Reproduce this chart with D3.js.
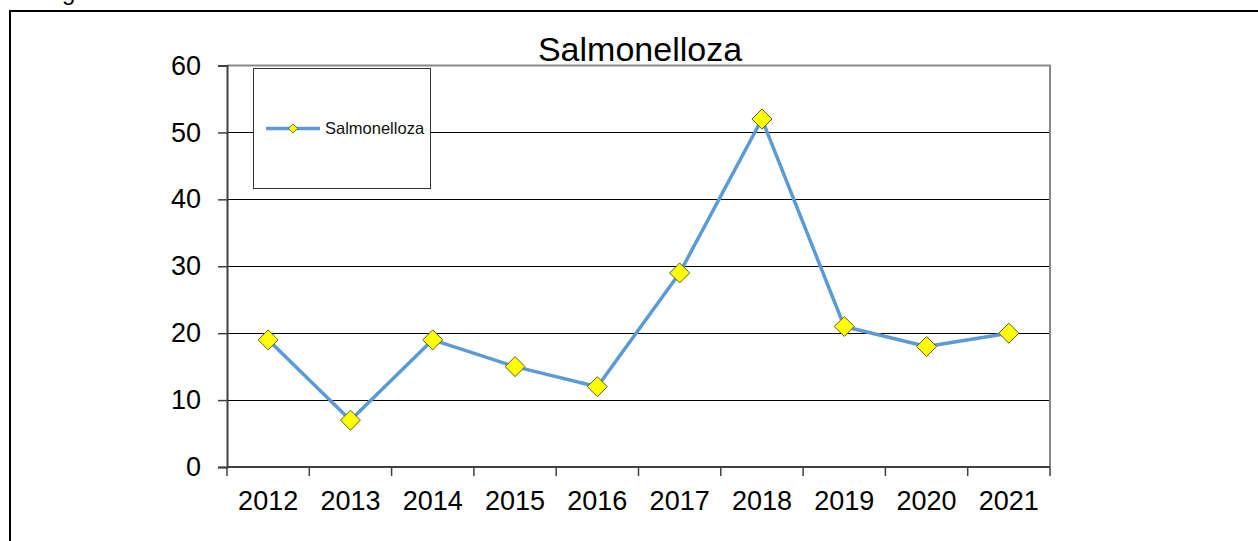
<!DOCTYPE html>
<html><head><meta charset="utf-8">
<script src="https://cdn.jsdelivr.net/npm/d3@7"></script>
<style>body{margin:0;background:#fff}svg{display:block;font-family:"Liberation Sans",Arial,sans-serif}</style>
</head><body>
<svg id="c" width="1258" height="541"></svg>
<script>
const years = ["2012","2013","2014","2015","2016","2017","2018","2019","2020","2021"];
const values = [19, 7, 19, 15, 12, 29, 52, 21, 18, 20];
const yTicks = [0, 10, 20, 30, 40, 50, 60];
const seriesName = "Salmonelloza";
const title = "Salmonelloza";

const svg = d3.select("#c");
// cut-off caption text above frame
svg.append("text").attr("x", 62).attr("y", 0).attr("font-size", 24).attr("fill", "#000").text("g");
// outer frame
svg.append("line").attr("x1", 10).attr("x2", 1258).attr("y1", 11).attr("y2", 11).attr("stroke", "#000").attr("stroke-width", 2);
svg.append("line").attr("x1", 10).attr("x2", 10).attr("y1", 10).attr("y2", 541).attr("stroke", "#000").attr("stroke-width", 2);

const L = 227, R = 1050, T = 65.5, B = 467;
const x = d3.scaleBand().domain(years).range([L, R]);
const y = d3.scaleLinear().domain([0, 60]).range([B, T]);

// gridlines
svg.append("g").selectAll("line").data(yTicks.filter(d => d > 0 && d < 60)).join("line")
  .attr("x1", L).attr("x2", R).attr("y1", d => Math.round(y(d)) + 0.5).attr("y2", d => Math.round(y(d)) + 0.5)
  .attr("stroke", "#000").attr("stroke-width", 1);

// plot border top & right
svg.append("path").attr("d", `M${L},${T} H${R} V${B}`).attr("fill", "none").attr("stroke", "#888").attr("stroke-width", 2);

// y axis
const ya = svg.append("g").attr("transform", `translate(${L},0)`)
  .call(d3.axisLeft(y).tickValues(yTicks).tickSize(9).tickPadding(17).tickFormat(d3.format("d")));
ya.select(".domain").attr("stroke", "#404040").attr("stroke-width", 2);
ya.selectAll(".tick line").attr("stroke", "#404040").attr("stroke-width", 1.5);
ya.selectAll("text").attr("font-size", 27).attr("fill", "#000").attr("font-family", "Liberation Sans, Arial, sans-serif");

// x axis with ticks at boundaries
const xa = svg.append("g").attr("transform", `translate(0,${B})`);
xa.append("line").attr("x1", L).attr("x2", R).attr("y1", 0).attr("y2", 0).attr("stroke", "#404040").attr("stroke-width", 2);
const bounds = years.map(d => x(d)).concat([R]);
xa.selectAll("line.tk").data(bounds).join("line").attr("class", "tk")
  .attr("x1", d => d).attr("x2", d => d).attr("y1", 0).attr("y2", 9).attr("stroke", "#404040").attr("stroke-width", 1.5);
xa.selectAll("text").data(years).join("text")
  .attr("x", d => x(d) + x.bandwidth() / 2).attr("y", 43).attr("text-anchor", "middle")
  .attr("font-size", 27).attr("fill", "#000").text(d => d);

// title
svg.append("text").attr("x", 640).attr("y", 61).attr("text-anchor", "middle").attr("font-size", 34).attr("fill", "#000").text(title);

// line
const cx = (d, i) => x(years[i]) + x.bandwidth() / 2;
svg.append("path").datum(values)
  .attr("d", d3.line().x(cx).y(d => y(d)))
  .attr("fill", "none").attr("stroke", "#5B9BD5").attr("stroke-width", 3.5).attr("stroke-linejoin", "round");

const diamond = r => `M0,${-r} L${r},0 L0,${r} L${-r},0 Z`;
svg.append("g").selectAll("path").data(values).join("path")
  .attr("transform", (d, i) => `translate(${cx(d, i)},${y(d)})`)
  .attr("d", diamond(10)).attr("fill", "#FFFF00").attr("stroke", "#5a5a2a").attr("stroke-width", 1);

// legend
const lg = svg.append("g");
lg.append("rect").attr("x", 253.5).attr("y", 68.5).attr("width", 177).attr("height", 120).attr("fill", "#fff").attr("stroke", "#333").attr("stroke-width", 1);
lg.append("line").attr("x1", 266).attr("x2", 320).attr("y1", 128.5).attr("y2", 128.5).attr("stroke", "#5B9BD5").attr("stroke-width", 3.5);
lg.append("path").attr("transform", "translate(293,128.5)").attr("d", diamond(4.5)).attr("fill", "#FFFF00").attr("stroke", "#5a5a2a").attr("stroke-width", 0.8);
lg.append("text").attr("x", 325).attr("y", 134).attr("font-size", 16.5).attr("fill", "#111").text(seriesName);
</script>
</body></html>
